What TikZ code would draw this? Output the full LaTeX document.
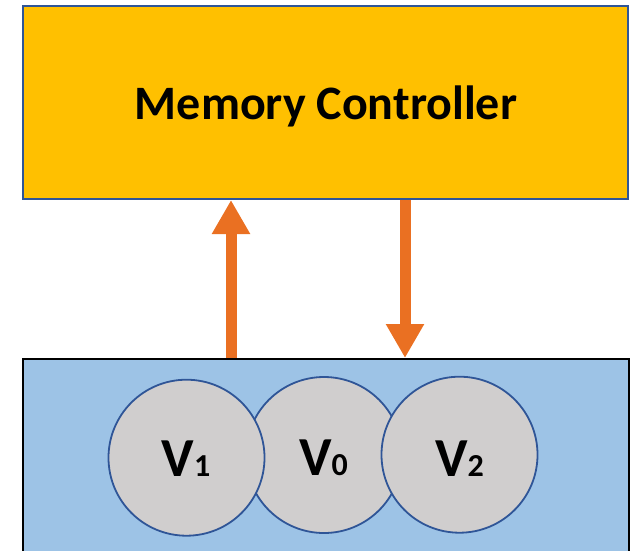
\documentclass[tikz,border=0pt]{standalone}
\usepackage{fontspec}
\setmainfont{Carlito}
\usetikzlibrary{arrows.meta}
\definecolor{mcfill}{HTML}{FFC000}
\definecolor{mcline}{HTML}{2F5597}
\definecolor{arrowc}{HTML}{EA7022}
\definecolor{memfill}{HTML}{9DC3E6}
\definecolor{vfill}{HTML}{D0CECE}
\tikzset{
  box/.style={rectangle, inner sep=0pt, line width=2pt},
  vcirc/.style={circle, draw=mcline, fill=vfill, line width=1.8pt, minimum size=156pt, inner sep=0pt},
  vlabel/.style={font=\fontsize{55}{57}\selectfont\bfseries, inner sep=0pt},
  arr/.style={draw=arrowc, line width=11pt, -{Triangle[length=34pt,width=36pt]}},
}
\newcommand{\vsub}[1]{{\fontsize{32}{33}\selectfont #1}}
\begin{document}
\begin{tikzpicture}[x=1pt,y=-1pt]
\useasboundingbox (0,0) rectangle (631,550);
\clip (0,0) rectangle (631,550);
\node[box, draw=mcline, fill=mcfill, minimum width=605pt, minimum height=193pt] (mem) at (325.5,102.5) {};
\node[anchor=base, inner sep=0pt, font=\fontsize{48}{50}\selectfont\bfseries] (mct) at (326,119) {Memory Controller};
\node[box, draw=black, fill=memfill, minimum width=606pt, minimum height=220pt] (bot) at (326,469) {};
\node[vcirc] (c0) at (324,455) {};
\node[vcirc] (c1) at (186.5,457.7) {};
\node[vcirc] (c2) at (459.5,454.7) {};
\node[vlabel] (l1) at (186,459) {V\vsub{1}};
\node[vlabel] (l0) at (323.5,457.5) {V\vsub{0}};
\node[vlabel] (l2) at (459.5,459) {V\vsub{2}};
\coordinate (ua) at (231,0);
\coordinate (da) at (405,0);
\draw[arr] (ua |- bot.north) -- (ua |- mem.south);
\draw[arr] (da |- mem.south) -- (da |- bot.north);
\end{tikzpicture}
\end{document}
